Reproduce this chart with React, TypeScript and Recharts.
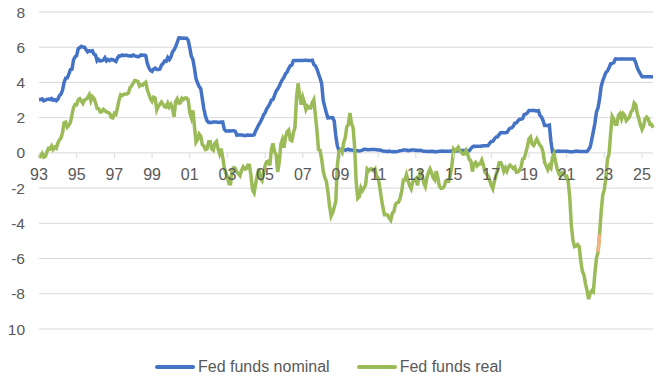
import React from "react";
import { LineChart, Line, XAxis, YAxis, CartesianGrid, Legend } from "recharts";

// monthly, Jan 1993 .. Aug 2025
const startYear = 1993;

const nominal = [
  3.02, 3.03, 3.07, 2.96, 3.0, 3.04, 3.06, 3.03, 3.09, 2.99, 3.02, 2.96,
  3.05, 3.25, 3.34, 3.56, 4.01, 4.25, 4.26, 4.47, 4.73, 4.76, 5.29, 5.45,
  5.53, 5.92, 5.98, 6.05, 6.01, 6.0, 5.85, 5.74, 5.8, 5.76, 5.8, 5.6,
  5.56, 5.22, 5.31, 5.22, 5.24, 5.27, 5.4, 5.22, 5.3, 5.24, 5.31, 5.29,
  5.25, 5.19, 5.39, 5.51, 5.5, 5.56, 5.52, 5.54, 5.54, 5.5, 5.52, 5.5,
  5.56, 5.51, 5.49, 5.45, 5.49, 5.56, 5.54, 5.55, 5.51, 5.07, 4.83, 4.68,
  4.63, 4.76, 4.81, 4.74, 4.74, 4.76, 4.99, 5.07, 5.22, 5.2, 5.42, 5.3,
  5.45, 5.73, 5.85, 6.02, 6.27, 6.53, 6.54, 6.5, 6.52, 6.51, 6.51, 6.4,
  5.98, 5.49, 5.31, 4.8, 4.21, 3.97, 3.77, 3.65, 3.07, 2.49, 2.09, 1.82,
  1.73, 1.74, 1.73, 1.75, 1.75, 1.75, 1.73, 1.74, 1.75, 1.75, 1.34, 1.24,
  1.24, 1.26, 1.25, 1.26, 1.26, 1.22, 1.01, 1.03, 1.01, 1.01, 1.0, 0.98,
  1.0, 1.01, 1.0, 1.0, 1.0, 1.03, 1.26, 1.43, 1.61, 1.76, 1.93, 2.16,
  2.28, 2.5, 2.63, 2.79, 3.0, 3.04, 3.26, 3.5, 3.62, 3.78, 4.0, 4.16,
  4.29, 4.49, 4.59, 4.79, 4.94, 4.99, 5.24, 5.25, 5.25, 5.25, 5.25, 5.24,
  5.25, 5.26, 5.26, 5.25, 5.25, 5.25, 5.26, 5.02, 4.94, 4.76, 4.49, 4.24,
  3.94, 2.98, 2.61, 2.28, 1.98, 2.0, 2.01, 2.0, 1.81, 0.97, 0.39, 0.16,
  0.15, 0.22, 0.18, 0.15, 0.18, 0.21, 0.16, 0.16, 0.15, 0.12, 0.12, 0.12,
  0.11, 0.13, 0.16, 0.2, 0.2, 0.18, 0.18, 0.19, 0.19, 0.19, 0.19, 0.18,
  0.17, 0.16, 0.14, 0.1, 0.09, 0.09, 0.07, 0.1, 0.08, 0.07, 0.08, 0.07,
  0.08, 0.1, 0.13, 0.14, 0.16, 0.16, 0.16, 0.13, 0.14, 0.16, 0.16, 0.16,
  0.14, 0.15, 0.14, 0.15, 0.11, 0.09, 0.09, 0.08, 0.08, 0.09, 0.08, 0.09,
  0.07, 0.07, 0.08, 0.09, 0.09, 0.1, 0.09, 0.09, 0.09, 0.09, 0.09, 0.12,
  0.11, 0.11, 0.11, 0.12, 0.12, 0.13, 0.13, 0.14, 0.14, 0.12, 0.12, 0.24,
  0.34, 0.38, 0.36, 0.37, 0.37, 0.38, 0.39, 0.4, 0.4, 0.4, 0.41, 0.54,
  0.65, 0.66, 0.79, 0.9, 0.91, 1.04, 1.15, 1.16, 1.15, 1.15, 1.16, 1.3,
  1.41, 1.42, 1.51, 1.69, 1.7, 1.82, 1.91, 1.91, 1.95, 2.19, 2.2, 2.27,
  2.4, 2.4, 2.41, 2.42, 2.39, 2.38, 2.4, 2.13, 2.04, 1.83, 1.55, 1.55,
  1.55, 1.58, 0.65, 0.05, 0.05, 0.08, 0.09, 0.1, 0.09, 0.09, 0.09, 0.09,
  0.09, 0.08, 0.07, 0.07, 0.06, 0.08, 0.1, 0.09, 0.08, 0.08, 0.08, 0.08,
  0.08, 0.08, 0.2, 0.33, 0.77, 1.21, 1.68, 2.33, 2.56, 3.08, 3.78, 4.1,
  4.33, 4.57, 4.65, 4.83, 5.06, 5.08, 5.12, 5.33, 5.33, 5.33, 5.33, 5.33,
  5.33, 5.33, 5.33, 5.33, 5.33, 5.33, 5.33, 5.33, 5.13, 4.83, 4.64, 4.48,
  4.33, 4.33, 4.33, 4.33, 4.33, 4.33, 4.33, 4.33,
];

const real = [
  -0.28, -0.17, -0.03, -0.24, -0.2, 0.04, 0.26, 0.23, 0.39, 0.19, 0.32, 0.26,
  0.55, 0.75, 0.84, 1.16, 1.71, 1.75, 1.46, 1.57, 1.73, 2.16, 2.59, 2.75,
  2.73, 3.02, 3.08, 2.95, 2.81, 3.0, 3.05, 3.14, 3.3, 2.96, 3.2, 3.1,
  2.86, 2.52, 2.51, 2.32, 2.34, 2.47, 2.4, 2.32, 2.3, 2.24, 2.01, 1.99,
  2.25, 2.19, 2.59, 3.01, 3.3, 3.26, 3.32, 3.34, 3.34, 3.4, 3.72, 3.8,
  3.96, 4.11, 4.09, 4.05, 3.79, 3.86, 3.84, 3.95, 4.01, 3.57, 3.33, 3.08,
  2.93, 3.16, 3.11, 2.44, 2.64, 2.76, 2.89, 2.77, 2.62, 2.6, 2.82, 2.6,
  2.75, 2.53, 2.05, 2.92, 3.07, 2.83, 2.84, 3.1, 3.02, 3.11, 3.11, 3.0,
  2.28, 1.99, 2.41, 1.5, 0.61, 0.77, 1.07, 0.95, 0.47, 0.39, 0.19, 0.22,
  0.63, 0.64, 0.23, 0.15, 0.55, 0.65, 0.23, -0.06, 0.25, -0.25, -0.86, -1.16,
  -1.36, -1.74, -1.75, -0.94, -0.84, -0.88, -1.09, -1.17, -1.29, -0.99, -0.8, -0.92,
  -0.9, -0.69, -0.7, -1.3, -2.1, -2.27, -1.74, -1.27, -0.89, -1.44, -1.57, -1.14,
  -0.72, -0.5, -0.47, -0.71, 0.2, 0.54, 0.06, -0.1, -1.08, -0.52, 0.5, 0.76,
  0.29, 0.89, 1.19, 1.29, 0.74, 0.69, 1.14, 1.45, 3.15, 3.95, 3.25, 2.74,
  3.15, 2.86, 2.46, 2.65, 2.55, 2.55, 2.86, 3.02, 2.14, 1.26, 0.19, 0.14,
  -0.36, -1.02, -1.39, -1.62, -2.22, -3.0, -3.59, -3.4, -3.09, -2.73, -0.71, 0.06,
  0.15, 0.02, 0.58, 0.85, 1.48, 1.61, 2.26, 1.66, 1.45, 0.32, -1.68, -2.58,
  -2.49, -1.97, -2.14, -2.0, -1.8, -0.92, -1.02, -0.91, -0.91, -1.01, -0.91, -1.32,
  -1.43, -1.94, -2.56, -3.1, -3.51, -3.51, -3.53, -3.7, -3.82, -3.43, -3.32, -2.93,
  -2.82, -2.8, -2.57, -2.16, -1.54, -1.54, -1.24, -1.57, -1.86, -2.04, -1.64, -1.54,
  -1.46, -1.85, -1.36, -0.95, -1.29, -1.71, -1.91, -1.42, -1.12, -0.91, -1.12, -1.41,
  -1.53, -1.03, -1.42, -1.91, -2.01, -2.0, -1.91, -1.61, -1.61, -1.61, -1.21, -0.68,
  0.21, 0.11, 0.21, 0.32, 0.12, 0.03, -0.07, -0.06, 0.14, -0.08, -0.38, -0.46,
  -1.06, -0.62, -0.54, -0.73, -0.63, -0.62, -0.41, -0.7, -1.1, -1.2, -1.29, -1.56,
  -1.85, -2.04, -1.61, -1.3, -0.99, -0.56, -0.55, -0.74, -1.05, -0.85, -1.04, -0.8,
  -0.69, -0.78, -0.89, -0.81, -1.1, -1.08, -0.99, -0.79, -0.35, -0.31, 0.0, 0.37,
  0.8, 0.9, 0.51, 0.42, 0.59, 0.78, 0.6, 0.43, 0.34, 0.03, -0.55, -0.75,
  -0.95, -0.72, -0.85, -0.25, -0.05, -0.52, -0.91, -1.2, -1.31, -1.11, -1.11, -1.31,
  -1.31, -1.62, -2.53, -4.13, -4.94, -5.32, -5.3, -5.21, -5.32, -6.12, -6.72, -6.92,
  -7.42, -7.82, -8.3, -7.97, -7.83, -7.89, -6.82, -5.97, -5.64, -4.62, -3.32, -2.4,
  -2.07, -1.43, -0.35, -0.07, 1.06, 2.08, 1.92, 1.63, 1.63, 2.13, 2.23, 1.93,
  2.23, 2.13, 1.83, 1.93, 2.03, 2.33, 2.43, 2.83, 2.73, 2.23, 1.94, 1.58,
  1.33, 1.53, 1.93, 2.03, 1.93, 1.63, 1.63, 1.43,
];

// Sep-Oct 2022 segment drawn in orange
const highlightMonths = [356, 357];

const yTicks = [-10, -8, -6, -4, -2, 0, 2, 4, 6, 8];
const xTickYears = [1993, 1995, 1997, 1999, 2001, 2003, 2005, 2007, 2009, 2011, 2013, 2015, 2017, 2019, 2021, 2023, 2025];
const xTickLabels = ["93", "95", "97", "99", "01", "03", "05", "07", "09", "11", "13", "15", "17", "19", "21", "23", "25"];

const BLUE = "#4472C4";
const GREEN = "#9BBB59";
const ORANGE = "#F4B183";
const GRID = "#D9D9D9";
const TEXT = "#595959";
const FONT = "'Liberation Sans', Arial, sans-serif";

// chart is pulled over the body margin so it fills the 668x387 window
const W = 668;
const H = 387;
const MARGIN = { top: 12, right: 15, bottom: 0, left: 0 };
const LEGEND_H = 40;
const XAXIS_H = 18;
const Y_MIN = -10;
const Y_MAX = 8;
const PLOT_H = H - MARGIN.top - MARGIN.bottom - LEGEND_H - XAXIS_H;
const ZERO_Y = MARGIN.top + (PLOT_H * Y_MAX) / (Y_MAX - Y_MIN);

const data = nominal.map((v, i) => ({
  t: startYear + i / 12,
  nominal: v,
  real: real[i],
  highlight: highlightMonths.includes(i) ? real[i] : null,
}));
const lastT = data[data.length - 1].t;

// x labels sit on the zero line, like Excel
const ZeroTick = (props: any) => {
  const { x, payload } = props;
  const label = xTickLabels[xTickYears.indexOf(payload.value)];
  return (
    <g>
      <line x1={x} x2={x} y1={ZERO_Y} y2={ZERO_Y + 5} stroke={GRID} />
      <text x={x} y={ZERO_Y + 27} textAnchor="middle" fill={TEXT} fontSize={16} fontFamily={FONT}>
        {label}
      </text>
    </g>
  );
};

const YTick = (props: any) => {
  const { x, y, payload } = props;
  return (
    <text x={x} y={y} dy="0.36em" textAnchor="end" fill={TEXT} fontSize={15.5} fontFamily={FONT}>
      {String(payload.value)}
    </text>
  );
};

const renderLegend = (props: any) => {
  const items = (props.payload || []).filter((p: any) => p.type !== "none");
  return (
    <div
      style={{
        display: "flex",
        alignItems: "center",
        height: LEGEND_H,
        paddingLeft: 155,
        fontFamily: FONT,
        fontSize: 16,
        color: TEXT,
      }}
    >
      {items.map((p: any, i: number) => (
        <div key={i} style={{ display: "flex", alignItems: "center", marginRight: 27 }}>
          <span
            style={{
              display: "inline-block",
              width: 40,
              height: 4,
              borderRadius: 2,
              background: p.color,
              marginRight: 3,
            }}
          />
          <span>{p.value}</span>
        </div>
      ))}
    </div>
  );
};

export default function App() {
  return (
    <div style={{ width: W, height: H, margin: -8, fontFamily: FONT }}>
      <LineChart width={W} height={H} data={data} margin={MARGIN}>
        <CartesianGrid vertical={false} stroke={GRID} />
        <XAxis
          dataKey="t"
          type="number"
          domain={[startYear, lastT]}
          ticks={xTickYears}
          interval={0}
          axisLine={false}
          tickLine={false}
          height={XAXIS_H}
          tick={<ZeroTick />}
        />
        <YAxis
          domain={[Y_MIN, Y_MAX]}
          ticks={yTicks}
          axisLine={false}
          tickLine={false}
          width={39}
          tickSize={6}
          tickMargin={8}
          tick={<YTick />}
        />
        <Legend verticalAlign="bottom" height={LEGEND_H} content={renderLegend} />
        <Line
          type="linear"
          dataKey="nominal"
          name="Fed funds nominal"
          stroke={BLUE}
          strokeWidth={3.5}
          dot={false}
          isAnimationActive={false}
        />
        <Line
          type="linear"
          dataKey="real"
          name="Fed funds real"
          stroke={GREEN}
          strokeWidth={3.5}
          dot={false}
          isAnimationActive={false}
        />
        <Line
          type="linear"
          dataKey="highlight"
          stroke={ORANGE}
          strokeWidth={3.5}
          dot={false}
          legendType="none"
          isAnimationActive={false}
        />
      </LineChart>
    </div>
  );
}
